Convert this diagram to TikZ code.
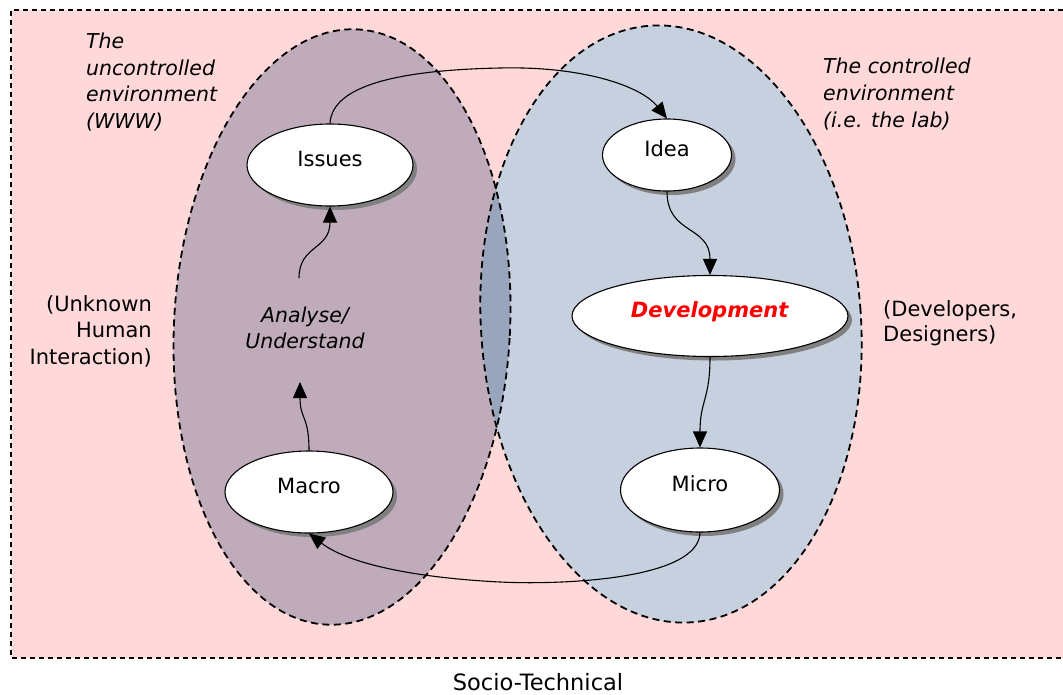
\documentclass[tikz,border=0pt]{standalone}
\usepackage{fontspec}
\setmainfont{DejaVu Sans}
\usetikzlibrary{shapes.geometric,shadows,arrows.meta}
\definecolor{bgpink}{RGB}{255,217,217}
\definecolor{leftc}{RGB}{191,171,185}
\definecolor{rightc}{RGB}{198,208,223}
\definecolor{overc}{RGB}{152,165,188}
\begin{document}
\begin{tikzpicture}[x=1pt,y=-1pt,
  outer/.style={draw=black, line width=1.3pt, dash pattern=on 5pt off 4pt},
  envline/.style={draw=black, line width=1.8pt, dash pattern=on 7pt off 4.5pt},
  proc/.style={ellipse, draw=black, line width=1.1pt, fill=white, inner sep=0pt,
    drop shadow={shadow xshift=4pt, shadow yshift=-4pt, opacity=1, fill=black!50},
    font=\fontsize{21}{25}\selectfont, text height=0.75em, text depth=0.5em},
  conn/.style={draw=black, line width=1.1pt, -{Triangle[width=14pt,length=16pt]}},
  note/.style={font=\fontsize{20.5}{26.7}\selectfont\itshape, inner sep=0pt},
  plain/.style={font=\fontsize{21}{26.5}\selectfont, inner sep=0pt}]
\useasboundingbox (0,0) rectangle (1063,694);
\fill[white] (0,0) rectangle (1063,694);
\fill[bgpink] (11,10) rectangle (1090,658);
\draw[outer] (1090,10) -- (11,10) -- (11,658) -- (1090,658);
% environments
\fill[leftc, rotate around={-3:(342,327)}] (342,327) ellipse [x radius=168pt, y radius=298pt];
\fill[rightc, rotate around={4:(671,324)}] (671,324) ellipse [x radius=190pt, y radius=299pt];
\begin{scope}
  \clip[rotate around={-3:(342,327)}] (342,327) ellipse [x radius=168pt, y radius=298pt];
  \fill[overc, rotate around={4:(671,324)}] (671,324) ellipse [x radius=190pt, y radius=299pt];
\end{scope}
\draw[envline, rotate around={-3:(342,327)}] (342,327) ellipse [x radius=168pt, y radius=298pt];
\draw[envline, rotate around={4:(671,324)}] (671,324) ellipse [x radius=190pt, y radius=299pt];
% nodes
\node[proc, minimum width=166pt, minimum height=82pt] (issues) at (330,165) {Issues};
\node[proc, minimum width=129pt, minimum height=72pt] (idea) at (667,155) {Idea};
\node[proc, minimum width=276pt, minimum height=81pt, text=red] (dev) at (710,316) {\textbf{\textit{Development}}};
\node[proc, minimum width=159pt, minimum height=84pt] (micro) at (700,490) {Micro};
\node[proc, minimum width=168pt, minimum height=82pt] (macro) at (309,492) {Macro};
\node[note, align=center] (analyse) at (305,328) {Analyse/\\Understand};
\coordinate (ain) at (300,382);
\coordinate (aout) at (299,278);
% connectors
\draw[conn] (issues.north) .. controls (332,85) and (400,70) .. (500,68)
  .. controls (580,66) and (640,85) .. (idea.north);
\draw[conn] (idea.south) .. controls (667,235) and (710,225) .. (dev.north);
\draw[conn] (dev.south) .. controls (710,400) and (700,400) .. (micro.north);
\draw[conn] (micro.south) .. controls (699,580) and (560,585) .. (500,582)
  .. controls (420,578) and (350,565) .. (macro.south);
\draw[conn] (macro.north) .. controls (309,415) and (300,420) .. (ain);
\draw[conn] (aout) .. controls (299,245) and (330,250) .. (issues.south);
% labels
\node[note, align=left, anchor=west] (unc) at (86,82) {The\\uncontrolled\\environment\\(WWW)};
\node[note, align=left, anchor=west] (ctl) at (823,94) {The controlled\\environment\\(i.e. the lab)};
\node[plain, align=right, anchor=east] (unk) at (152,331) {(Unknown\\Human\\Interaction)};
\node[plain, align=left, anchor=west, font=\fontsize{21}{25}\selectfont] (devs) at (883,323) {(Developers,\\Designers)};
\node[plain, font=\fontsize{22.5}{27}\selectfont] (socio) at (538,682) {Socio-Technical};
\end{tikzpicture}
\end{document}
